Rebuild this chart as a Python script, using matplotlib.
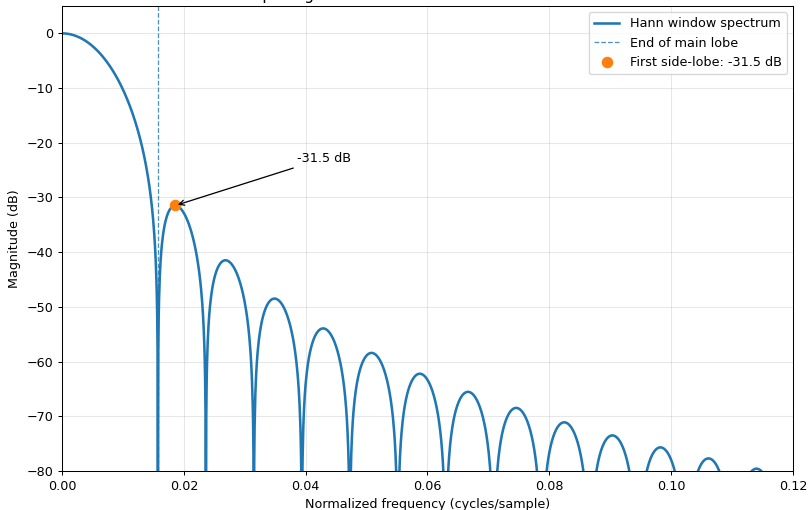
import numpy as np
import matplotlib.pyplot as plt

# window settings (Hann, zero-padded FFT)
win_len = 128
nfft = 16384
f_max = 0.12
db_floor = -80
db_top = 5

# spectrum of the window
w = np.hanning(win_len)
spec = np.abs(np.fft.rfft(w, nfft))
freqs = np.fft.rfftfreq(nfft)
mag_db = 20 * np.log10(spec / spec.max() + 1e-12)

# end of main lobe = first null, first side-lobe = next local max
i_null = np.argmax(np.diff(mag_db) > 0)
f_null = freqs[i_null]
rest = mag_db[i_null:]
i_peak = i_null + np.argmax(np.diff(rest) < 0)
f_peak = freqs[i_peak]
db_peak = mag_db[i_peak]

dpi = 92
fig = plt.figure(figsize=(809/dpi, 510/dpi), dpi=dpi)
ax = fig.add_subplot(111)
fig.subplots_adjust(left=62/809, right=793/809, top=1-6/510, bottom=1-471/510)

ax.plot(freqs, mag_db, lw=2, label="Hann window spectrum")
ax.axvline(f_null, ls="--", lw=1, alpha=0.8, label="End of main lobe")
ax.plot(f_peak, db_peak, "o", color="C1", ms=8,
        label="First side-lobe: %.1f dB" % db_peak)
ax.annotate("%.1f dB" % db_peak, xy=(f_peak, db_peak),
            xytext=(f_peak + 0.02, db_peak + 8),
            arrowprops=dict(arrowstyle="->", color="black"))

ax.set_xlim(0, f_max)
ax.set_ylim(db_floor, db_top)
ax.set_xlabel("Normalized frequency (cycles/sample)")
ax.set_ylabel("Magnitude (dB)")
ax.set_title("DFT bin spacing and Hann window main-lobes and side-lobes", pad=4.5)
ax.grid(True, alpha=0.3)
ax.legend(loc="upper right")

fig.savefig("out.png", dpi=dpi)
